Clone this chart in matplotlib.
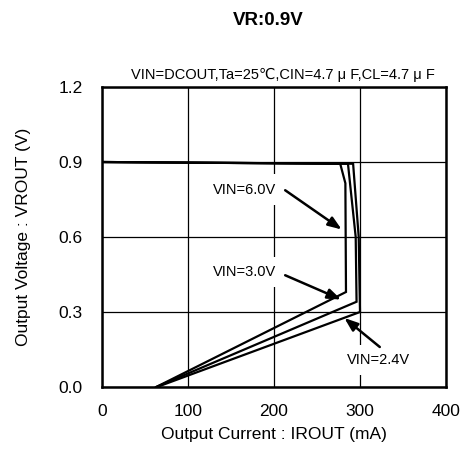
import matplotlib
matplotlib.use("Agg")
import matplotlib.pyplot as plt

plt.rcParams['font.family'] = ['Liberation Sans', 'DejaVu Sans']

# Data (Output current mA, output voltage V)
i_6v0 = [0, 277, 283, 283.7, 63]
v_6v0 = [0.90, 0.893, 0.815, 0.38, 0.0]
i_3v0 = [0, 286, 295, 296, 63]
v_3v0 = [0.90, 0.893, 0.60, 0.341, 0.0]
i_2v4 = [0, 292, 298.5, 300, 64]
v_2v4 = [0.90, 0.893, 0.60, 0.30, 0.0]

xticks = [0, 100, 200, 300, 400]
yticks = [0.0, 0.3, 0.6, 0.9, 1.2]
ytick_labels = ["0.0", "0.3", "0.6", "0.9", "1.2"]

fig = plt.figure(figsize=(4.61, 4.61), dpi=100)
ax = fig.add_axes([102/461, 74/461, 344/461, 300/461])

for xs, ys in [(i_6v0, v_6v0), (i_3v0, v_3v0), (i_2v4, v_2v4)]:
    ax.plot(xs, ys, color='black', lw=1.6, zorder=3, solid_joinstyle='miter')

ax.set_xlim(0, 400)
ax.set_ylim(0, 1.2)
ax.set_xticks(xticks)
ax.set_yticks(yticks)
ax.set_yticklabels(ytick_labels)
ax.grid(True, color='black', lw=0.9, zorder=0)
ax.set_axisbelow(True)
ax.tick_params(length=0, labelsize=12.5, pad=0)
ax.tick_params(axis='y', pad=14)
ax.tick_params(axis='x', pad=12)
for s in ax.spines.values():
    s.set_linewidth(1.8)

ax.set_xlabel("Output Current : IROUT (mA)", fontsize=12.5, labelpad=6)
ax.set_ylabel("Output Voltage : VROUT (V)", fontsize=12.5, labelpad=20)

box = dict(facecolor='white', edgecolor='none', pad=6)
ax.text(202, 0.79, "VIN=6.0V", ha='right', va='center', fontsize=10.5, bbox=box, zorder=2)
ax.text(202, 0.46, "VIN=3.0V", ha='right', va='center', fontsize=10.5, bbox=box, zorder=2)
ax.text(322, 0.108, "VIN=2.4V", ha='center', va='center', fontsize=10.5, bbox=box, zorder=2)

arrow = dict(arrowstyle='-|>,head_length=0.8,head_width=0.3', color='black', lw=1.8, shrinkA=0, shrinkB=0)
ax.annotate("", xy=(278.7, 0.63), xytext=(213, 0.787), arrowprops=arrow, zorder=4)
ax.annotate("", xy=(278, 0.35), xytext=(213, 0.447), arrowprops=arrow, zorder=4)
ax.annotate("", xy=(281.8, 0.276), xytext=(323, 0.16), arrowprops=arrow, zorder=4)

fig.text(268/461, 1 - 20.5/461, "VR:0.9V", ha='center', va='center', fontsize=13.5, fontweight='bold')
fig.text(435/461, 1 - 75/461, "VIN=DCOUT,Ta=25\u2103,CIN=4.7 \u03bc F,CL=4.7 \u03bc F",
         ha='right', va='center', fontsize=10.5)

fig.savefig("out.png", dpi=100)
